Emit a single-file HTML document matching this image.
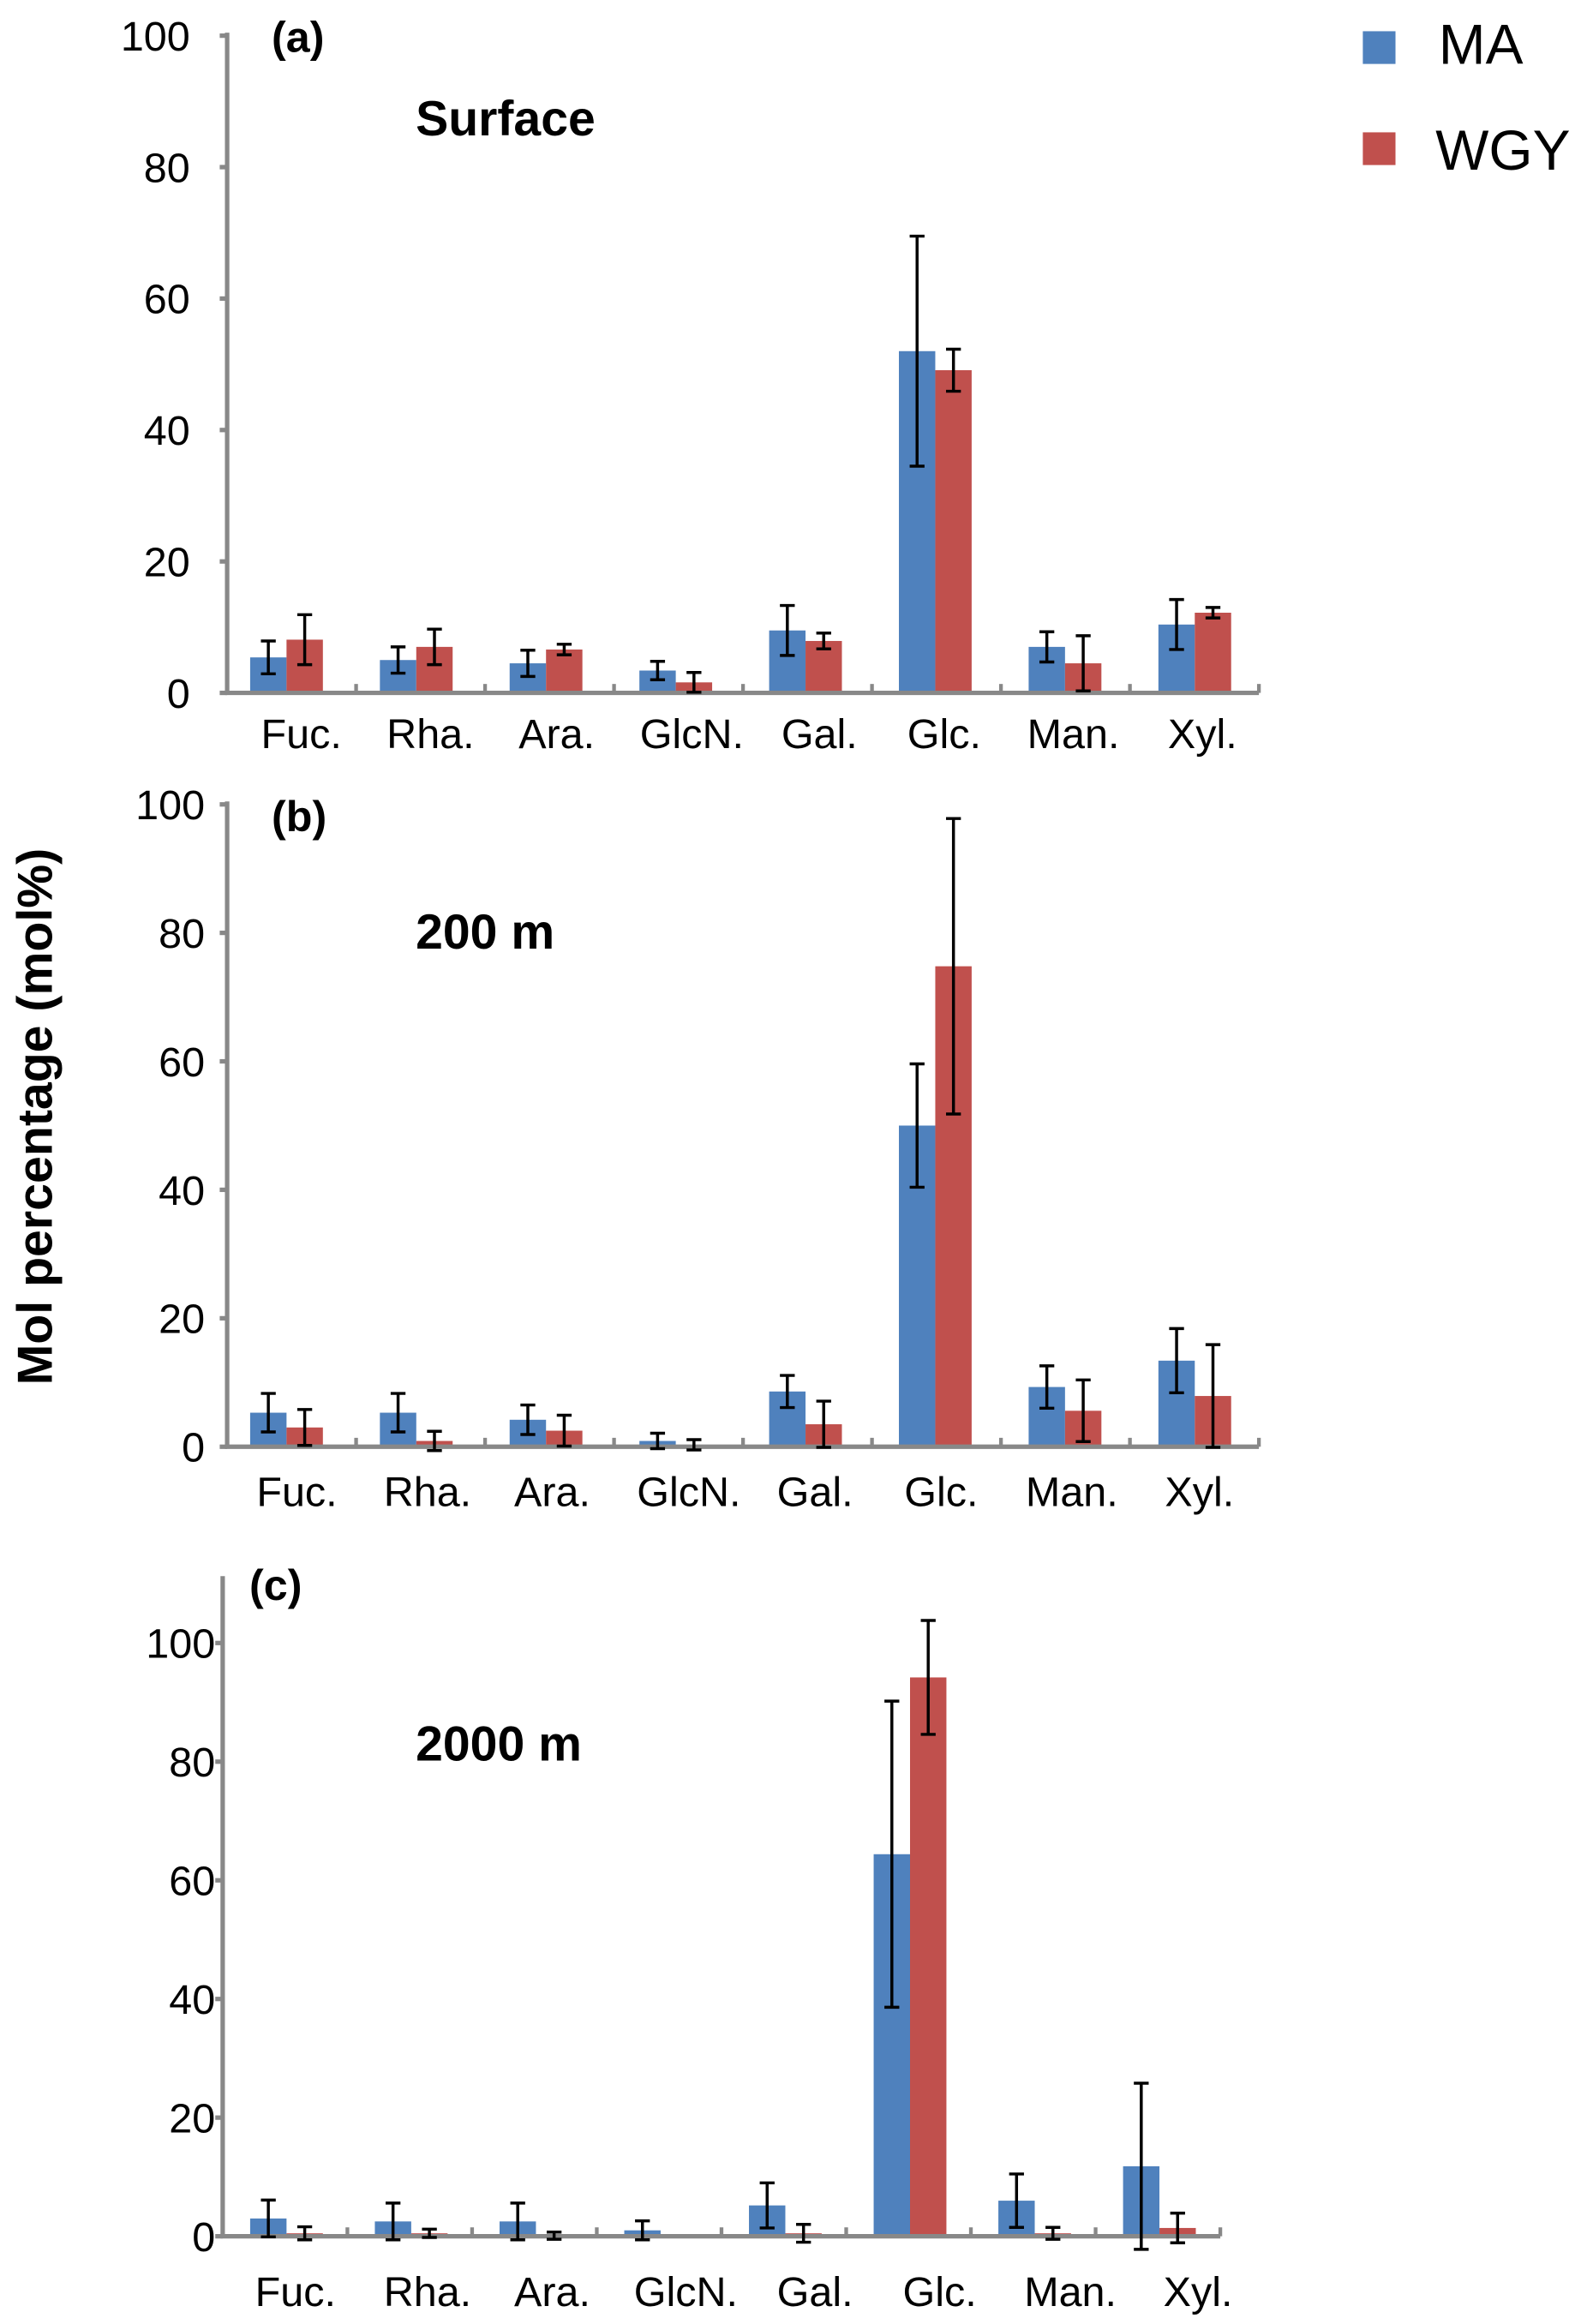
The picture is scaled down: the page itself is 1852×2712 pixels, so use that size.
<!DOCTYPE html>
<html><head><meta charset="utf-8">
<style>
html,body{margin:0;padding:0;background:#fff;}
svg{display:block;font-family:"Liberation Sans",Arial,sans-serif;}
</style></head>
<body>
<svg id="chart" width="1852" height="2712" viewBox="0 0 1069 1563" preserveAspectRatio="none" xmlns="http://www.w3.org/2000/svg">
<g id="legend">
  <rect x="918" y="21" width="22" height="22" fill="#4f81bd"/>
  <text x="969" y="43" font-size="38">MA</text>
  <rect x="918" y="89" width="22" height="22" fill="#c0504d"/>
  <text x="967" y="114" font-size="38">WGY</text>
</g>
<text transform="translate(35,751) rotate(-90)" text-anchor="middle" font-size="33" font-weight="bold">Mol percentage (mol%)</text>
</svg>
<script>
const categories = ["Fuc.","Rha.","Ara.","GlcN.","Gal.","Glc.","Man.","Xyl."];
const panelNames = ["(a)","(b)","(c)"];
const panelTitles = ["Surface","200 m","2000 m"];
const maA = [5.4,5.0,4.5,3.4,9.5,52.0,7.0,10.4];
const maAErr = [2.5,2.0,2.0,1.4,3.8,17.5,2.3,3.8];
const wgyA = [8.1,7.0,6.6,1.6,7.9,49.1,4.5,12.2];
const wgyAErr = [3.8,2.7,0.8,1.5,1.2,3.2,4.2,0.8];
const maB = [5.3,5.3,4.2,0.9,8.6,50.0,9.3,13.4];
const maBErr = [3.0,3.0,2.3,1.2,2.5,9.6,3.3,5.0];
const wgyB = [3.0,0.9,2.5,0.3,3.5,74.8,5.6,7.9];
const wgyBErr = [2.8,1.5,2.4,0.8,3.6,23.0,4.8,8.0];
const maC = [3.0,2.5,2.5,1.0,5.2,64.4,6.0,11.8];
const maCErr = [3.1,3.1,3.1,1.6,3.8,25.8,4.5,14.0];
const wgyC = [0.5,0.5,0.1,0.0,0.5,94.2,0.5,1.4];
const wgyCErr = [1.1,0.7,0.6,0.0,1.5,9.6,1.0,2.5];
const yTicks = [0,20,40,60,80,100];

const NS = "http://www.w3.org/2000/svg";
const svg = document.getElementById('chart');
function mk(tag, attrs, parent){
  const e = document.createElementNS(NS, tag);
  for (const k in attrs) e.setAttribute(k, attrs[k]);
  (parent||svg).appendChild(e);
  return e;
}
const panels = [
  {ma:maA,maE:maAErr,w:wgyA,wE:wgyAErr,x0:153,x1:848,c0:193,cs:87.4,y0:466,y100:24,top:24,tickX:128,lblY:503,labX:[203,290,375,466,552,636,723,810],nameX:183,nameY:35,titleX:280,titleY:91},
  {ma:maB,maE:maBErr,w:wgyB,wE:wgyBErr,x0:153,x1:848,c0:193,cs:87.4,y0:973,y100:541,top:541,tickX:138,lblY:1013,labX:[200,288,372,464,549,634,722,808],nameX:183,nameY:559,titleX:280,titleY:638},
  {ma:maC,maE:maCErr,w:wgyC,wE:wgyCErr,x0:150,x1:822,c0:193,cs:84,y0:1504,y100:1105,top:1062,tickX:145,lblY:1551,labX:[199,288,372,462,549,633,721,807],nameX:168,nameY:1076,titleX:280,titleY:1184}
];
panels.forEach((p,pi)=>{
  const g = mk('g',{});
  
  
  const ys = v => p.y0 - (p.y0 - p.y100) * v / 100;
  const cw = (p.x1 - p.x0) / categories.length;
  const xc = i => p.c0 + p.cs * i;
  const bw = 24.5;
  yTicks.forEach(t=>{
    const y = ys(t);
    const tk = mk('line',{x1:p.x0-5,x2:p.x0,y1:y,y2:y,stroke:'#888','stroke-width':3},g);
    
    
    const tl = mk('text',{x:p.tickX,y:y+10,'text-anchor':'end','font-size':28},g);
    
    
    tl.textContent = t;
  });
  categories.forEach((c,i)=>{
    const series = [[p.ma[i],p.maE[i],'#4f81bd',-1,'ma'],[p.w[i],p.wE[i],'#c0504d',0,'wgy']];
    series.forEach(s=>{
      const x = xc(i) + s[3]*bw;
      const yv = ys(s[0]);
      const r = mk('rect',{x:x,y:yv,width:bw,height:Math.max(0,p.y0-yv),fill:s[2]},g);
      
      
    });
  });
  const ya = mk('line',{x1:p.x0,x2:p.x0,y1:p.top-2,y2:p.y0+1,stroke:'#888','stroke-width':3},g);
  
  
  const xa = mk('line',{x1:p.x0-1.5,x2:p.x1,y1:p.y0,y2:p.y0,stroke:'#888','stroke-width':3},g);
  
  
  for (let i=1;i<=categories.length;i++){
    const x = p.x0 + cw*i;
    const xt = mk('line',{x1:x,x2:x,y1:p.y0-6,y2:p.y0,stroke:'#888','stroke-width':2.5},g);
    
    
  }
  categories.forEach((c,i)=>{
    const series = [[p.ma[i],p.maE[i],-0.5,'ma'],[p.w[i],p.wE[i],0.5,'wgy']];
    series.forEach(s=>{
      if (s[1] <= 0) return;
      const x = xc(i) + s[2]*bw;
      const e = mk('path',{d:`M${x},${ys(s[0]+s[1])}V${ys(s[0]-s[1])}M${x-5},${ys(s[0]+s[1])}H${x+5}M${x-5},${ys(s[0]-s[1])}H${x+5}`,stroke:'#000','stroke-width':2,fill:'none'},g);
      
      
    });
    const cl = mk('text',{x:p.labX[i],y:p.lblY,'text-anchor':'middle','font-size':28},g);
    
    
    cl.textContent = c;
  });
  const pn = mk('text',{x:p.nameX,y:p.nameY,'font-size':29,'font-weight':'bold'},g);
  
  
  pn.textContent = panelNames[pi];
  const pt = mk('text',{x:p.titleX,y:p.titleY,'font-size':33,'font-weight':'bold'},g);
  
  
  pt.textContent = panelTitles[pi];
});
</script>
</body></html>
